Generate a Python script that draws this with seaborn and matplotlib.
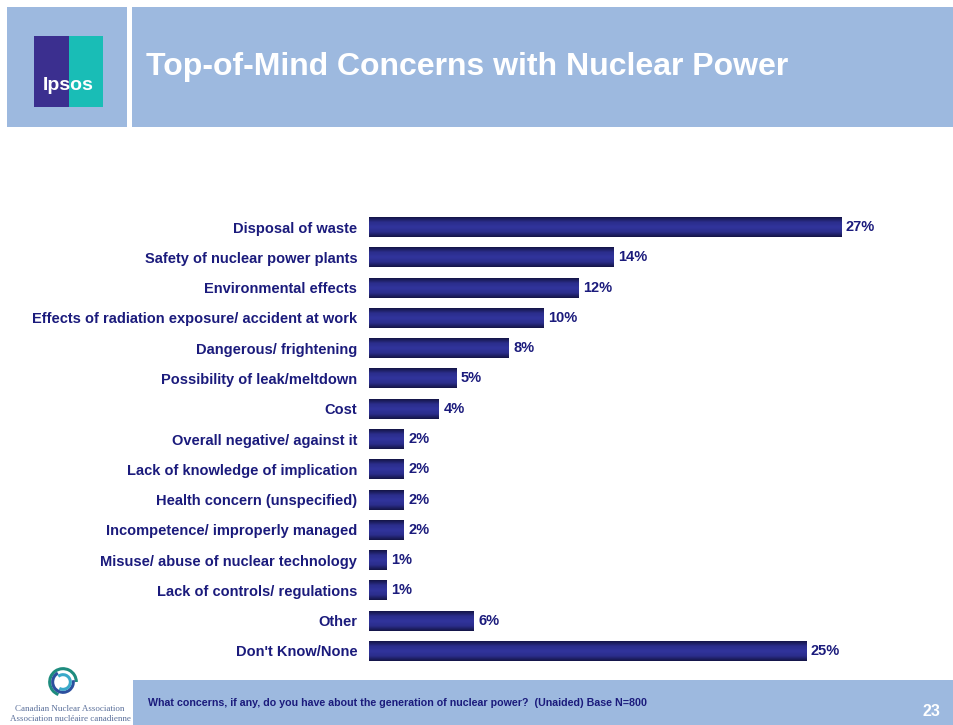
import numpy as np
import matplotlib
matplotlib.use("Agg")
import matplotlib.pyplot as plt
from matplotlib.colors import LinearSegmentedColormap
from matplotlib.patches import Rectangle, Arc
import seaborn as sns

# ==========================================
# DATOS
# ==========================================

categorias = [
    "Disposal of waste",
    "Safety of nuclear power plants",
    "Environmental effects",
    "Effects of radiation exposure/ accident at work",
    "Dangerous/ frightening",
    "Possibility of leak/meltdown",
    "Cost",
    "Overall negative/ against it",
    "Lack of knowledge of implication",
    "Health concern (unspecified)",
    "Incompetence/ improperly managed",
    "Misuse/ abuse of nuclear technology",
    "Lack of controls/ regulations",
    "Other",
    "Don't Know/None",
]

valores = [27, 14, 12, 10, 8, 5, 4, 2, 2, 2, 2, 1, 1, 6, 25]

titulo = "Top-of-Mind Concerns with Nuclear Power"
pregunta = ("What concerns, if any, do you have about the generation of "
            "nuclear power?  (Unaided) Base N=800")
pagina = "23"

# ==========================================
# ESTILO
# ==========================================

sns.set_style("white")
plt.rcParams["font.family"] = ["Liberation Sans", "DejaVu Sans"]

AZUL_CAJA = "#9DB9DF"
NAVY = "#1B1B7C"

W, H = 954, 725
fig = plt.figure(figsize=(W / 100, H / 100), dpi=100)


def caja(x0, y0, x1, y1, color):
    fig.patches.append(Rectangle(
        (x0 / W, 1 - y1 / H), (x1 - x0) / W, (y1 - y0) / H,
        transform=fig.transFigure, facecolor=color, edgecolor="none",
        zorder=0))


# encabezado
caja(7, 7, 127, 127, AZUL_CAJA)
caja(132, 7, 954, 127, AZUL_CAJA)
fig.text(146 / W, 1 - 67 / H, titulo, color="white", fontsize=23,
         fontweight="bold", va="center", ha="left")

# logo ipsos
caja(34, 36, 69, 107, "#3B2F8F")
caja(69, 36, 103, 107, "#19BDB6")
fig.text(68 / W, 1 - 85 / H, "Ipsos", color="white", fontsize=14,
         fontweight="bold", va="center", ha="center")

# pie
caja(133, 680, 954, 725, AZUL_CAJA)
fig.text(148 / W, 1 - 703 / H, pregunta, color=NAVY, fontsize=7.7,
         fontweight="bold", va="center", ha="left")
fig.text(940 / W, 1 - 712 / H, pagina, color="white", fontsize=11.5,
         fontweight="bold", va="center", ha="right")

# logo CNA
ax_logo = fig.add_axes([47 / W, 1 - 702 / H, 32 / W, 40 / H])
ax_logo.set_xlim(-1.2, 1.2)
ax_logo.set_ylim(-1.2, 1.2)
ax_logo.set_aspect("equal")
ax_logo.axis("off")
for i, c in enumerate(["#1E8C7E", "#2C4F9E", "#3AA9C9"]):
    ax_logo.add_patch(Arc((0, 0), 2.0 - i * 0.45, 2.0 - i * 0.45,
                          theta1=i * 120, theta2=i * 120 + 250,
                          color=c, lw=2.2))
fig.text(70 / W, 1 - 709 / H, "Canadian Nuclear Association",
         family="Liberation Serif", fontsize=6.5, color="#5A6F9A",
         ha="center", va="center")
fig.text(70 / W, 1 - 719 / H, "Association nucl\u00e9aire canadienne",
         family="Liberation Serif", fontsize=6.5, color="#5A6F9A",
         ha="center", va="center")

# ==========================================
# GRAFICO
# ==========================================

ax = fig.add_axes([369 / W, 1 - 666 / H, (894 - 369) / W, (666 - 212) / H])

sns.barplot(
    x=valores,
    y=categorias,
    orient="h",
    color="#2E3192",
    width=0.66,
    ax=ax,
)

# degradado de las barras
degradado = LinearSegmentedColormap.from_list(
    "barra", ["#141546", "#2B2E8C", "#31349C", "#2B2E8C", "#141546"])
grad = np.linspace(0, 1, 64).reshape(-1, 1)
for barra in ax.patches:
    x0, y0 = barra.get_x(), barra.get_y()
    w, h = barra.get_width(), barra.get_height()
    im = ax.imshow(grad, cmap=degradado, aspect="auto",
                   extent=[x0, x0 + w, y0 + h, y0], zorder=3,
                   interpolation="bilinear")
    im.set_clip_path(barra)

ax.set_ylim(14.5, -0.5)
ax.set_xlim(0, 30)

for i, v in enumerate(valores):
    ax.text(v + 0.25, i, f"{v}%", color=NAVY, fontsize=10.5,
            fontweight="bold", va="center", ha="left")

ax.set_xlabel("")
ax.set_ylabel("")
ax.set_xticks([])
ax.tick_params(axis="y", length=0, pad=8.5)
for lab in ax.get_yticklabels():
    lab.set_color(NAVY)
    lab.set_fontweight("bold")
    lab.set_fontsize(10.5)
sns.despine(ax=ax, left=True, bottom=True)
ax.patch.set_alpha(0)

fig.savefig("out.png", dpi=100)
